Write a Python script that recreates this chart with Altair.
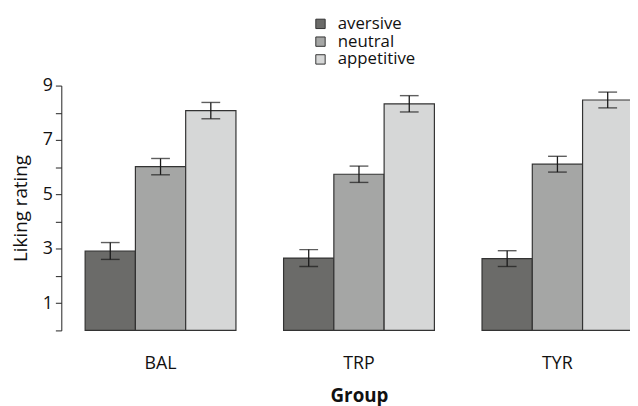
import altair as alt
import pandas as pd

groups = ["BAL", "TRP", "TYR"]
conditions = ["aversive", "neutral", "appetitive"]
aversive = [2.92, 2.66, 2.64]
neutral = [6.02, 5.74, 6.11]
appetitive = [8.08, 8.33, 8.47]
err_aversive = [0.31, 0.31, 0.29]
err_neutral = [0.30, 0.30, 0.29]
err_appetitive = [0.30, 0.30, 0.29]
colors = ["#6b6b69", "#a5a6a5", "#d6d7d7"]
y_ticks = [0, 1, 2, 3, 4, 5, 6, 7, 8, 9]

rows = []
for cond, vals, errs in [("aversive", aversive, err_aversive),
                         ("neutral", neutral, err_neutral),
                         ("appetitive", appetitive, err_appetitive)]:
    for g, v, e in zip(groups, vals, errs):
        rows.append({"Group": g, "Condition": cond, "value": v,
                     "lo": v - e, "hi": v + e})
df = pd.DataFrame(rows)

FONT = "Open Sans"

x = alt.X("Group:N", sort=groups,
          scale=alt.Scale(range=[0, 603], paddingInner=0.24, paddingOuter=0.12),
          axis=alt.Axis(title="Group", labelAngle=0, domain=False, ticks=False,
                        labelPadding=25, titlePadding=14, titleFontWeight="bold",
                        titleX=301.5))
xo = alt.XOffset("Condition:N", sort=conditions,
                 scale=alt.Scale(paddingInner=0, paddingOuter=0))

yscale = alt.Scale(domain=[0, 9], nice=False)
yaxis = alt.Axis(title="Liking rating", values=y_ticks, grid=False,
                 labelExpr="(datum.value == 1 || datum.value == 3 || datum.value == 5 || datum.value == 7 || datum.value == 9) ? datum.label : ''",
                 labelOverlap=False, labelFlush=False,
                 tickSize=6, labelPadding=3, titlePadding=12,
                 domainColor="#222", tickColor="#222")

base = alt.Chart(df)

bars = base.mark_bar(stroke="#333333", strokeWidth=1.2).encode(
    x=x,
    xOffset=xo,
    y=alt.Y("value:Q", scale=yscale, axis=yaxis),
    fill=alt.Fill("Condition:N", sort=conditions,
                  scale=alt.Scale(domain=conditions, range=colors),
                  legend=alt.Legend(title=None, orient="none", legendX=254, legendY=-71,
                                    symbolType="square", symbolSize=90,
                                    symbolStrokeColor="#333", symbolStrokeWidth=1,
                                    labelFontSize=17, labelFont=FONT, rowPadding=0,
                                    labelOffset=9, labelColor="#111")),
)

rule = base.mark_rule(color="#1a1a1a", strokeWidth=1.3).encode(
    x=alt.X("Group:N", sort=groups), xOffset=xo,
    y=alt.Y("lo:Q", scale=yscale, axis=yaxis), y2="hi:Q")
cap_lo = base.mark_tick(color="#1a1a1a", size=19, thickness=1.4).encode(
    x=alt.X("Group:N", sort=groups), xOffset=xo,
    y=alt.Y("lo:Q", scale=yscale, axis=yaxis))
cap_hi = base.mark_tick(color="#1a1a1a", size=19, thickness=1.4).encode(
    x=alt.X("Group:N", sort=groups), xOffset=xo,
    y=alt.Y("hi:Q", scale=yscale, axis=yaxis))

chart = alt.layer(bars, rule, cap_lo, cap_hi).properties(
    width=576, height=248,
    autosize=alt.AutoSizeParams(type="none"),
    padding={"left": 54, "top": 76, "right": 0, "bottom": 76},
).configure_view(stroke=None).configure_axis(
    labelFont=FONT, titleFont=FONT, labelFontSize=18, titleFontSize=19,
    labelColor="#111", titleColor="#111", titleFontWeight="normal"
)

chart.save("out.html", embed_options={"renderer": "svg", "actions": False})
